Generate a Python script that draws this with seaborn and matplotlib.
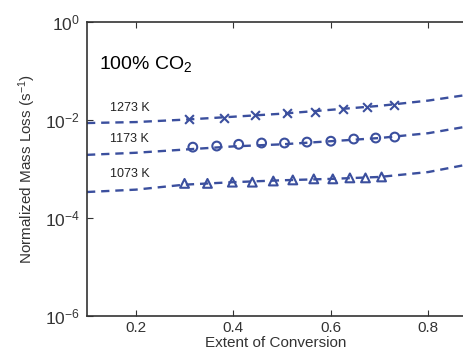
import matplotlib
matplotlib.use("Agg")
import matplotlib.pyplot as plt
import matplotlib.ticker as mticker
import seaborn as sns

# Model curves (dashed)
fit_x = [0.1, 0.2, 0.3, 0.4, 0.5, 0.6, 0.7, 0.8, 0.873]
fit_1273 = [8.7e-3, 9.1e-3, 1.02e-2, 1.17e-2, 1.35e-2, 1.62e-2, 1.95e-2, 2.5e-2, 3.2e-2]
fit_1173 = [1.95e-3, 2.15e-3, 2.5e-3, 2.9e-3, 3.2e-3, 3.7e-3, 4.3e-3, 5.4e-3, 7.2e-3]
fit_1073 = [3.4e-4, 3.8e-4, 4.8e-4, 5.4e-4, 5.9e-4, 6.3e-4, 6.9e-4, 8.7e-4, 1.2e-3]

# Measured points
x_1273 = [0.31, 0.38, 0.445, 0.51, 0.567, 0.624, 0.675, 0.73]
y_1273 = [1.05e-2, 1.12e-2, 1.26e-2, 1.38e-2, 1.48e-2, 1.66e-2, 1.82e-2, 2.04e-2]
x_1173 = [0.317, 0.366, 0.411, 0.458, 0.505, 0.551, 0.6, 0.647, 0.692, 0.731]
y_1173 = [2.8e-3, 2.95e-3, 3.2e-3, 3.4e-3, 3.4e-3, 3.55e-3, 3.7e-3, 4.1e-3, 4.3e-3, 4.5e-3]
x_1073 = [0.30, 0.347, 0.398, 0.439, 0.482, 0.522, 0.565, 0.604, 0.639, 0.671, 0.704]
y_1073 = [5.1e-4, 5.1e-4, 5.4e-4, 5.4e-4, 5.7e-4, 6.0e-4, 6.3e-4, 6.3e-4, 6.6e-4, 6.6e-4, 6.9e-4]

temps = ["1273 K", "1173 K", "1073 K"]
markers = ["x", "o", "^"]
label_y = [1.3e-2, 3.1e-3, 6.0e-4]

_BLUE = "#3b4f9e"

sns.set_style("ticks")
plt.rcParams["font.family"] = ["Liberation Sans", "DejaVu Sans"]
plt.rcParams["mathtext.fontset"] = "custom"
plt.rcParams["mathtext.rm"] = "Liberation Sans"
plt.rcParams["mathtext.it"] = "Liberation Sans:italic"

fig = plt.figure(figsize=(4.64, 3.62), dpi=100)
ax = fig.add_axes([0.1875, 0.127, 0.8125, 0.812])

fits = [fit_1273, fit_1173, fit_1073]
pts = [(x_1273, y_1273), (x_1173, y_1173), (x_1073, y_1073)]

for fy, (px, py), mk in zip(fits, pts, markers):
    sns.lineplot(x=fit_x, y=fy, ax=ax, color=_BLUE, linewidth=1.7,
                 linestyle=(0, (3.5, 2.5)), sort=False)
    face = _BLUE if mk == "x" else "none"
    sns.scatterplot(x=px, y=py, ax=ax, marker=mk, s=40,
                    facecolor=face, edgecolor=_BLUE, color=_BLUE,
                    linewidth=1.5, zorder=3)

for t, ly in zip(temps, label_y):
    ax.text(0.147, ly, t, fontsize=9, color="#222222", va="bottom", ha="left")

ax.text(0.125, 0.14, "100% CO$_2$", fontsize=14, color="black", va="center")

ax.set_yscale("log")
ax.set_xlim(0.1, 0.873)
ax.set_ylim(1e-6, 1e0)
ax.set_xticks([0.2, 0.4, 0.6, 0.8])
ax.yaxis.set_major_locator(mticker.FixedLocator([1e-6, 1e-4, 1e-2, 1e0]))
ax.yaxis.set_minor_locator(mticker.NullLocator())
ax.yaxis.set_major_formatter(mticker.LogFormatterSciNotation())
ax.tick_params(axis="both", direction="in", top=True, right=False,
               length=4, colors="#333333", labelcolor="#333333")
ax.tick_params(axis="x", labelsize=11)
ax.tick_params(axis="y", labelsize=12.5, pad=5)

for side in ["left", "bottom", "top"]:
    ax.spines[side].set_color("#333333")
    ax.spines[side].set_linewidth(1.2)
ax.spines["right"].set_visible(False)

ax.set_xlabel("Extent of Conversion", fontsize=11, color="#333333", labelpad=1)
ax.set_ylabel("Normalized Mass Loss (s$^{-1}$)", fontsize=11, color="#333333",
              labelpad=5)

fig.savefig("out.png", dpi=100)
plt.close(fig)
